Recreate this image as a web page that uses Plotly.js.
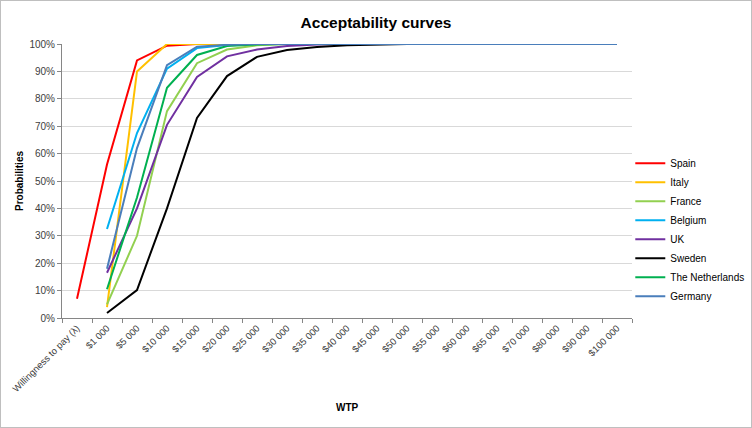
<!DOCTYPE html>
<html>
<head>
<meta charset="utf-8">
<script src="https://cdn.plot.ly/plotly-3.0.1.min.js"></script>
<style>
html,body{margin:0;padding:0;background:#fff;}
#chart{width:750px;height:426px;border:1px solid #bfbfbf;}
</style>
</head>
<body>
<div id="chart"></div>
<script>
const categories = ["Willingness to pay (λ)", "$1 000", "$5 000", "$10 000", "$15 000", "$20 000", "$25 000", "$30 000", "$35 000", "$40 000", "$45 000", "$50 000", "$55 000", "$60 000", "$65 000", "$70 000", "$80 000", "$90 000", "$100 000"];

const spain       = [0.07, 0.56, 0.94, 0.994, 1, 1, 1, 1, 1, 1, 1, 1, 1, 1, 1, 1, 1, 1, 1];
const italy       = [null, 0.04, 0.90, 1, 1, 1, 1, 1, 1, 1, 1, 1, 1, 1, 1, 1, 1, 1, 1];
const france      = [null, 0.05, 0.30, 0.755, 0.93, 0.98, 0.995, 1, 1, 1, 1, 1, 1, 1, 1, 1, 1, 1, 1];
const belgium     = [null, 0.325, 0.675, 0.91, 0.985, 0.996, 1, 1, 1, 1, 1, 1, 1, 1, 1, 1, 1, 1, 1];
const uk          = [null, 0.165, 0.40, 0.705, 0.88, 0.955, 0.98, 0.993, 0.998, 1, 1, 1, 1, 1, 1, 1, 1, 1, 1];
const sweden      = [null, 0.018, 0.102, 0.40, 0.73, 0.883, 0.953, 0.978, 0.989, 0.995, 0.998, 1, 1, 1, 1, 1, 1, 1, 1];
const netherlands = [null, 0.105, 0.44, 0.84, 0.96, 0.993, 0.998, 1, 1, 1, 1, 1, 1, 1, 1, 1, 1, 1, 1];
const germany     = [null, 0.18, 0.62, 0.923, 0.99, 0.997, 1, 1, 1, 1, 1, 1, 1, 1, 1, 1, 1, 1, 1];

const seriesNames  = ["Spain", "Italy", "France", "Belgium", "UK", "Sweden", "The Netherlands", "Germany"];
const seriesValues = [spain, italy, france, belgium, uk, sweden, netherlands, germany];
const seriesColors = ["#ff0000", "#ffc000", "#92d050", "#00b0f0", "#7030a0", "#000000", "#00b050", "#4a7ebb"];

const traces = seriesNames.map((n, i) => ({
  type: "scatter",
  mode: "lines",
  name: n,
  x: categories,
  y: seriesValues[i],
  line: {color: seriesColors[i], width: 2},
  connectgaps: false,
  hoverinfo: "x+y+name"
}));

const FONT = "Liberation Sans, Arial, sans-serif";

const layout = {
  width: 750,
  height: 426,
  margin: {l: 61, r: 119, t: 43, b: 109, autoexpand: false},
  paper_bgcolor: "#ffffff",
  plot_bgcolor: "#ffffff",
  font: {family: FONT, color: "#595959", size: 10},
  title: {
    text: "<b>Acceptability curves</b>",
    font: {family: FONT, size: 15.5, color: "#000000"},
    x: 0.5, xanchor: "center", xref: "container",
    y: 0.95, yanchor: "middle", yref: "container"
  },
  showlegend: true,
  legend: {
    x: 0.997, xanchor: "left",
    y: 0.618, yanchor: "top",
    font: {family: FONT, size: 10, color: "#000000"},
    bgcolor: "rgba(0,0,0,0)",
    tracegroupgap: 0,
    itemclick: false
  },
  annotations: [{
    text: "<b>WTP</b>",
    xref: "paper", yref: "paper",
    x: 0.5, y: -0.325,
    xanchor: "center", yanchor: "middle",
    showarrow: false,
    font: {family: FONT, size: 10, color: "#000000"}
  }],
  xaxis: {
    type: "category",
    categoryorder: "array",
    categoryarray: categories,
    range: [-0.5, categories.length - 0.5],
    tickangle: -45,
    ticks: "outside",
    tickson: "boundaries",
    ticklen: 4,
    tickcolor: "#868686",
    showline: true,
    linecolor: "#868686",
    linewidth: 1,
    showgrid: false,
    zeroline: false,
    automargin: false,
    tickfont: {family: FONT, size: 9.5, color: "#404040"}
  },
  yaxis: {
    range: [0, 1],
    dtick: 0.1,
    tick0: 0,
    tickformat: ".0%",
    ticks: "outside",
    ticklen: 4,
    tickcolor: "#868686",
    showline: true,
    linecolor: "#868686",
    linewidth: 1,
    showgrid: true,
    gridcolor: "#d9d9d9",
    gridwidth: 1,
    zeroline: false,
    automargin: false,
    tickfont: {family: FONT, size: 10, color: "#404040"},
    title: {
      text: "<b>Probabilities</b>",
      font: {family: FONT, size: 10, color: "#000000"},
      standoff: 3
    }
  }
};

Plotly.newPlot("chart", traces, layout, {displayModeBar: false, staticPlot: true});
</script>
</body>
</html>
